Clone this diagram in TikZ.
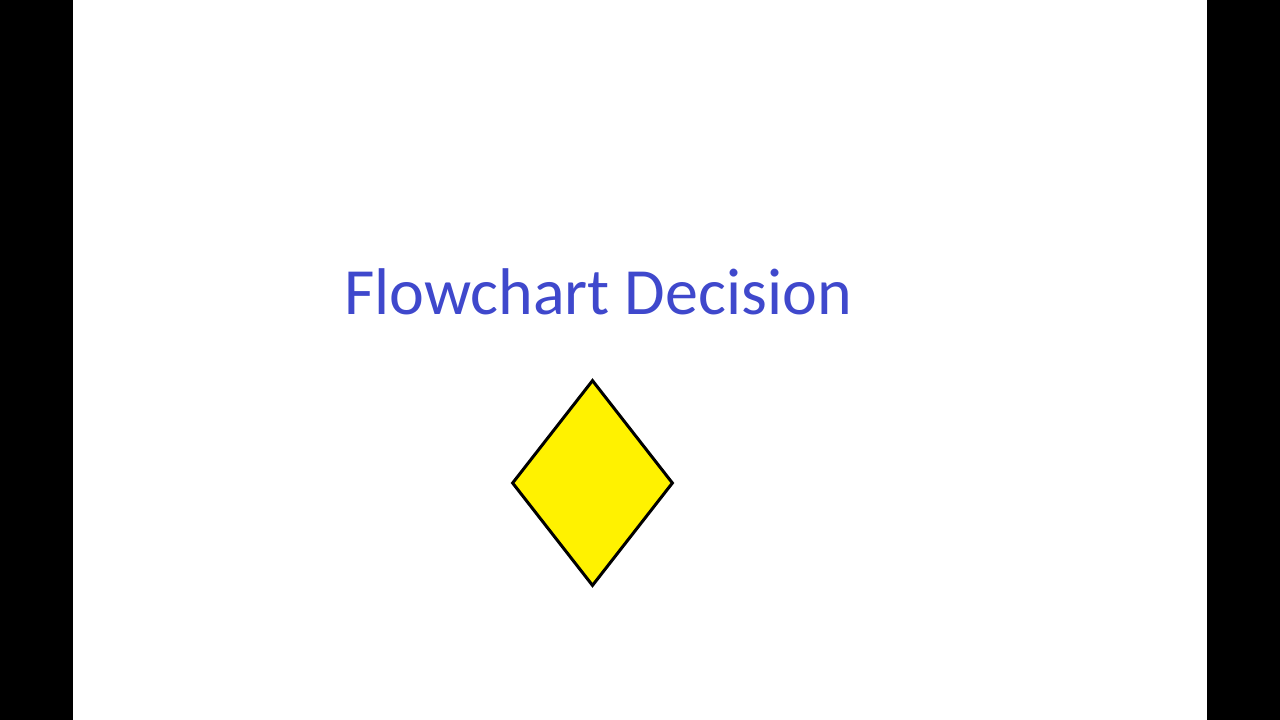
\documentclass[tikz,border=0pt]{standalone}
\usepackage{fontspec}
\setmainfont{Carlito}
\usetikzlibrary{shapes.geometric}
\definecolor{titleblue}{RGB}{63,72,204}
\definecolor{decyellow}{RGB}{255,242,0}
\tikzset{
  decisionbox/.style={diamond, draw=black, line width=3pt, fill=decyellow, inner sep=0pt, minimum width=161pt, minimum height=206pt},
  titletext/.style={text=titleblue, font=\fontsize{66pt}{78pt}\selectfont, inner sep=0pt, anchor=base}
}
\begin{document}
\begin{tikzpicture}[x=1pt,y=-1pt]
\useasboundingbox (0,0) rectangle (1280,720);
\fill[black] (0,0) rectangle (73,720);
\fill[black] (1207,0) rectangle (1280,720);
\fill[white] (73,0) rectangle (1207,720);
\node[titletext] (title) at (598,314) {Flowchart Decision};
\node[decisionbox] (decision) at (592.5,483) {};
\end{tikzpicture}
\end{document}
